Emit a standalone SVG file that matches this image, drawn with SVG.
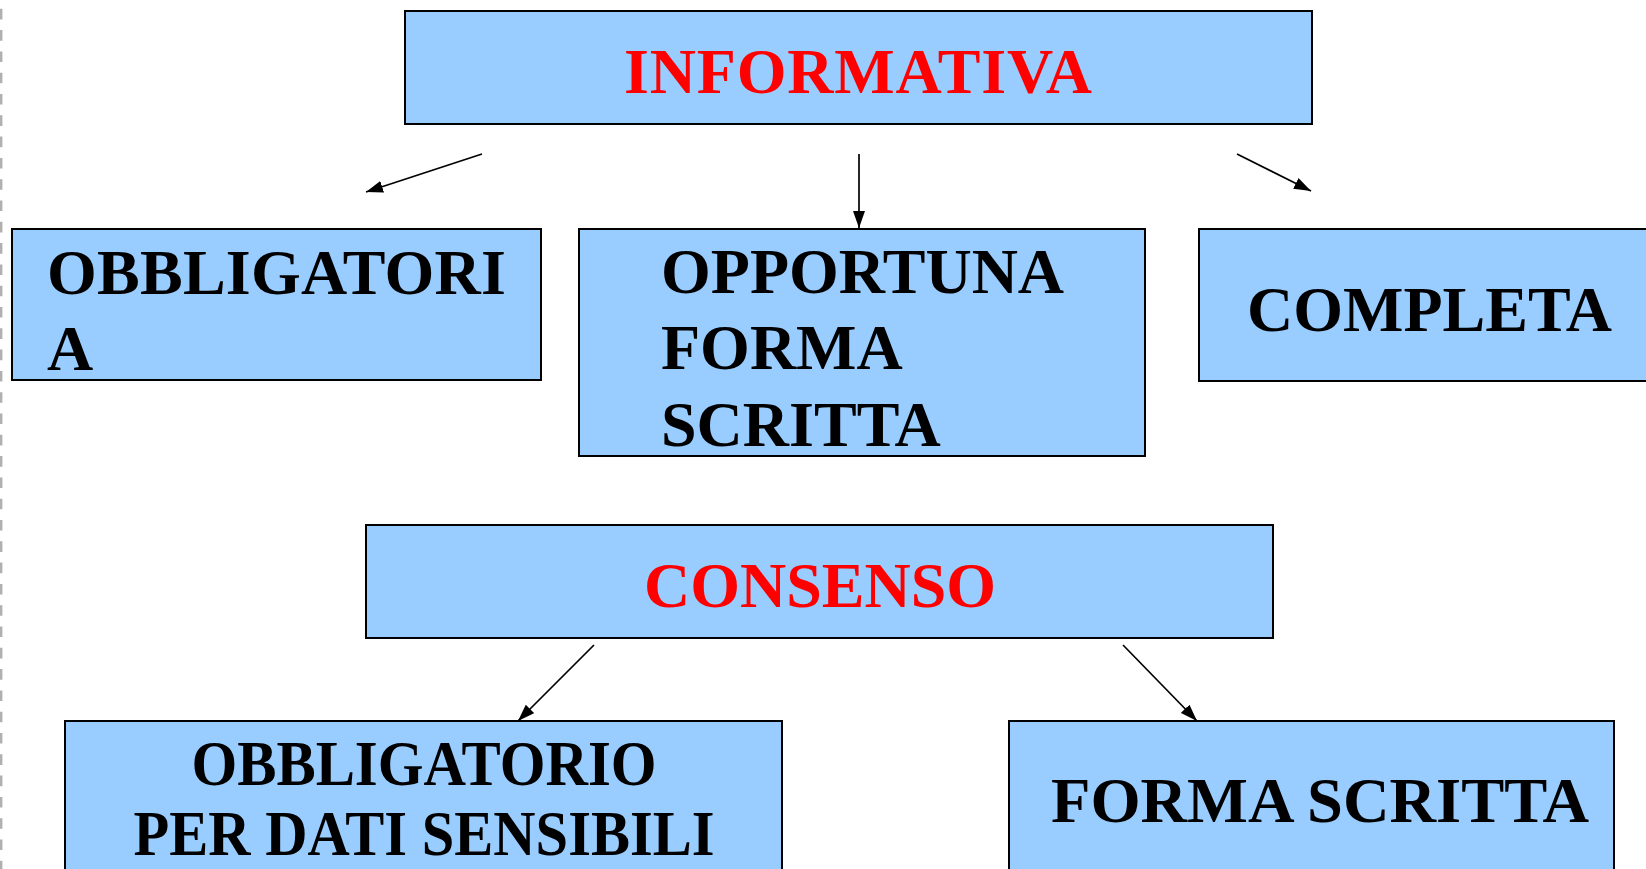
<svg xmlns="http://www.w3.org/2000/svg" width="1646" height="869" viewBox="0 0 1646 869">
<style>
.box{fill:#99CCFF;stroke:#000;stroke-width:2}
.t{font-family:"Liberation Serif","Times New Roman",serif;font-weight:bold;font-size:64px;fill:#000}
.red{fill:#FF0000}
.c{text-anchor:middle}
.conn line{stroke:#000;stroke-width:1.7;marker-end:url(#ah)}
</style>
<defs>
<marker id="ah" viewBox="0 0 17 12" refX="17" refY="6" markerWidth="17" markerHeight="12" markerUnits="userSpaceOnUse" orient="auto">
<path d="M0,0 L17,6 L0,12 Z" fill="#000"/>
</marker>
</defs>
<rect x="0" y="0" width="1646" height="869" fill="#fff"/>
<line x1="1.2" y1="0" x2="1.2" y2="869" stroke="#B0B0B0" stroke-width="2.4" stroke-dasharray="10.6 10.7" stroke-dashoffset="12.5"/>
<g id="informativa">
<rect class="box" x="405" y="11" width="907" height="113"/>
<text class="t red c" x="858" y="93" textLength="468" lengthAdjust="spacing">INFORMATIVA</text>
</g>
<g id="obbligatoria">
<rect class="box" x="12" y="229" width="529" height="151"/>
<text class="t" x="47" y="294" textLength="459" lengthAdjust="spacing">OBBLIGATORI</text>
<text class="t" x="47" y="370">A</text>
</g>
<g id="opportuna">
<rect class="box" x="579" y="229" width="566" height="227"/>
<text class="t" x="661" y="293">OPPORTUNA</text>
<text class="t" x="661" y="369">FORMA</text>
<text class="t" x="661" y="446">SCRITTA</text>
</g>
<g id="completa">
<rect class="box" x="1199" y="229" width="470" height="152"/>
<text class="t" x="1247" y="331">COMPLETA</text>
</g>
<g id="consenso">
<rect class="box" x="366" y="525" width="907" height="113"/>
<text class="t red c" x="820" y="607">CONSENSO</text>
</g>
<g id="obbligatorio">
<rect class="box" x="65" y="721" width="717" height="170"/>
<text class="t c" x="424" y="785" font-size="58" textLength="465" lengthAdjust="spacingAndGlyphs">OBBLIGATORIO</text>
<text class="t c" x="424" y="855" font-size="58" textLength="581" lengthAdjust="spacingAndGlyphs">PER DATI SENSIBILI</text>
</g>
<g id="forma-scritta">
<rect class="box" x="1009" y="721" width="605" height="170"/>
<text class="t" x="1051" y="822" textLength="538" lengthAdjust="spacingAndGlyphs">FORMA SCRITTA</text>
</g>
<g id="connectors" class="conn">
<line x1="482" y1="154" x2="366" y2="192"/>
<line x1="859" y1="154" x2="859" y2="228"/>
<line x1="1237" y1="154" x2="1311" y2="191"/>
<line x1="594" y1="645" x2="518" y2="721"/>
<line x1="1123" y1="645" x2="1197" y2="721"/>
</g>
</svg>
